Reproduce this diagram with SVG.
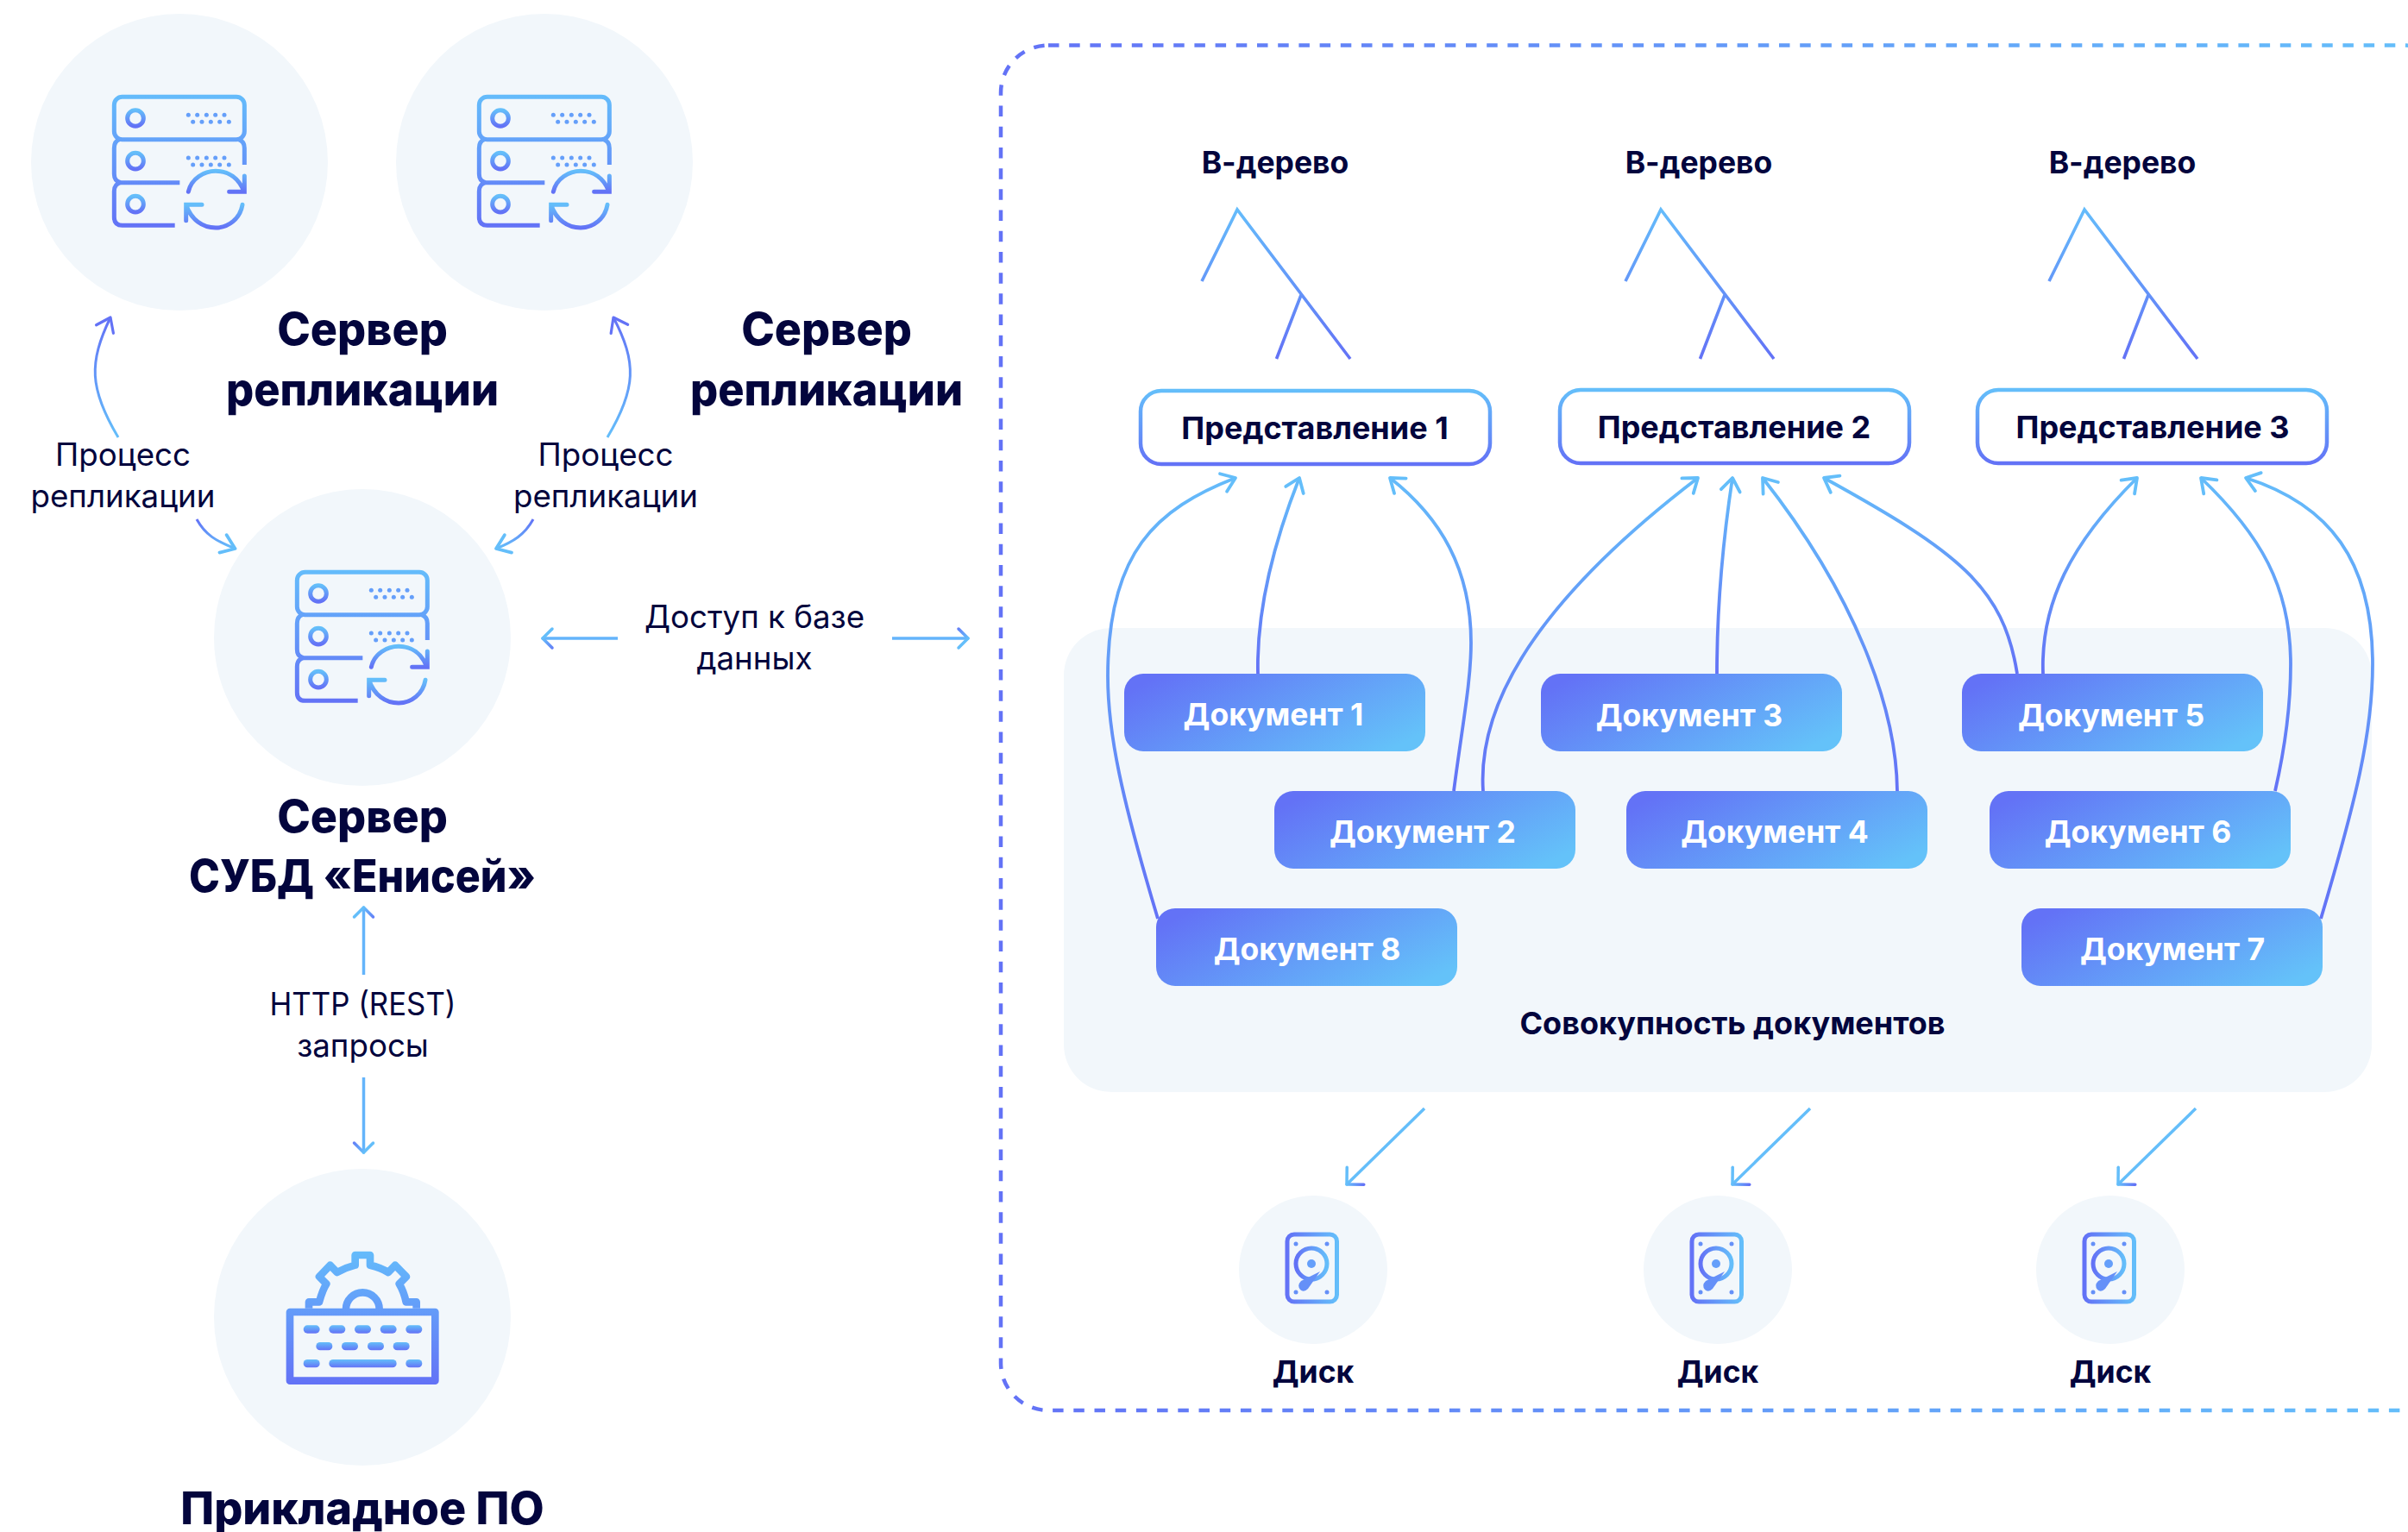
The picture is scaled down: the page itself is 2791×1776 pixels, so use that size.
<svg xmlns="http://www.w3.org/2000/svg" xmlns:xlink="http://www.w3.org/1999/xlink" width="2791" height="1776" viewBox="0 0 2791 1776">
<style>
text{font-family:Inter,"Noto Sans",sans-serif;fill:#03053d;text-anchor:middle}
.h{font-size:52px;font-weight:800}
.m{font-size:35.5px;font-weight:700}
.v{font-size:36px;font-weight:700}
.l{font-size:36.7px;font-weight:400}
.d{font-size:35.5px;font-weight:700;fill:#fff}
.bg{fill:#f2f7fb}
.c{fill:none;stroke-width:3.8;marker-end:url(#ah)}
.up{fill:none;stroke:url(#gr);stroke-width:3;marker-end:url(#ahp)}
.dn{fill:none;stroke:url(#gr);stroke-width:3;marker-end:url(#ah)}
.st{fill:none;stroke:#64b4fb;stroke-width:3.5}
.sd{fill:none;stroke:#64befa;stroke-width:3.5;marker-end:url(#as3)}
.doc{fill:url(#gd)}
.view{fill:#fff;stroke:url(#gv);stroke-width:4.5}
.tree{fill:none;stroke-width:3.6}
.arm{fill:none;stroke-width:3.5;stroke-linecap:round}
</style>
<defs>
<linearGradient id="gv" x1="0" y1="0" x2="0" y2="1"><stop offset="0" stop-color="#64befa"/><stop offset="1" stop-color="#6372f6"/></linearGradient>
<linearGradient id="gr" x1="0" y1="0" x2="0" y2="1"><stop offset="0" stop-color="#6372f6"/><stop offset="1" stop-color="#64befa"/></linearGradient>
<linearGradient id="gu" x1="0" y1="1" x2="0" y2="0"><stop offset="0" stop-color="#6372f6"/><stop offset="1" stop-color="#64bbfa"/></linearGradient>
<linearGradient id="gd" x1="0" y1="0.25" x2="1" y2="0.75"><stop offset="0" stop-color="#6372f6"/><stop offset="1" stop-color="#64c2f9"/></linearGradient>
<linearGradient id="gh" x1="0" y1="0" x2="1" y2="0"><stop offset="0" stop-color="#6372f6"/><stop offset="1" stop-color="#64befa"/></linearGradient>
<linearGradient id="gicon" gradientUnits="userSpaceOnUse" x1="0" y1="60" x2="0" y2="520"><stop offset="0" stop-color="#64bcfb"/><stop offset="1" stop-color="#6372f6"/></linearGradient>
<linearGradient id="gicon2" gradientUnits="userSpaceOnUse" x1="0" y1="330" x2="0" y2="795"><stop offset="0" stop-color="#64bcfb"/><stop offset="1" stop-color="#6372f6"/></linearGradient>
<linearGradient id="gframe" gradientUnits="userSpaceOnUse" x1="1160" y1="0" x2="2791" y2="0"><stop offset="0" stop-color="#6372f6"/><stop offset="1" stop-color="#64befa"/></linearGradient>
<linearGradient id="gt" gradientUnits="userSpaceOnUse" x1="0" y1="242" x2="0" y2="416"><stop offset="0" stop-color="#64bcfb"/><stop offset="1" stop-color="#6372f6"/></linearGradient>
<linearGradient id="ga1" gradientUnits="userSpaceOnUse" x1="20" y1="20" x2="6" y2="6"><stop offset="0" stop-color="#64befa"/><stop offset="1" stop-color="#6372f6"/></linearGradient>
<linearGradient id="ga2" gradientUnits="userSpaceOnUse" x1="20" y1="20" x2="6" y2="34"><stop offset="0" stop-color="#64befa"/><stop offset="1" stop-color="#6372f6"/></linearGradient>
<marker id="ah" markerUnits="userSpaceOnUse" orient="auto" markerWidth="40" markerHeight="40" refX="20" refY="20" viewBox="0 0 40 40" overflow="visible"><path d="M5 9L20 20L5 31" fill="none" stroke="#64befa" stroke-width="3.8" stroke-linecap="round" stroke-linejoin="round"/></marker>
<marker id="ahp" markerUnits="userSpaceOnUse" orient="auto" markerWidth="40" markerHeight="40" refX="20" refY="20" viewBox="0 0 40 40" overflow="visible"><path d="M5 9L20 20L5 31" fill="none" stroke="#6372f6" stroke-width="3.2" stroke-linecap="round" stroke-linejoin="round"/></marker>
<marker id="as1" markerUnits="userSpaceOnUse" orient="auto" markerWidth="40" markerHeight="40" refX="20" refY="20" viewBox="0 0 40 40" overflow="visible"><path d="M9 31L20 20" class="arm" stroke="#64befa"/><path d="M9 9L20 20" class="arm" stroke="url(#ga1)"/></marker>
<marker id="as2" markerUnits="userSpaceOnUse" orient="auto" markerWidth="40" markerHeight="40" refX="20" refY="20" viewBox="0 0 40 40" overflow="visible"><path d="M9 9L20 20" class="arm" stroke="#64befa"/><path d="M9 31L20 20" class="arm" stroke="url(#ga2)"/></marker>
<marker id="as3" markerUnits="userSpaceOnUse" orient="auto" markerWidth="40" markerHeight="40" refX="20" refY="20" viewBox="0 0 40 40" overflow="visible"><path d="M6 34L20 20" class="arm" stroke="#64befa"/><path d="M6 6L20 20" class="arm" stroke="url(#ga1)"/></marker>
<g id="server" transform="translate(-108 -98) scale(.33333)">
<rect x="97" y="67" width="453" height="148" rx="28" fill="none" stroke="url(#gicon)" stroke-width="15"/>
<path d="M550 303V245Q550 222 530 215M115 215Q97 222 97 245V335Q97 360 120 365H325M120 365Q97 370 97 395V485Q97 514 125 514H308" fill="none" stroke="url(#gicon)" stroke-width="15"/>
<g fill="none" stroke="url(#gv)" stroke-width="15"><circle cx="171" cy="141" r="28"/><circle cx="171" cy="290" r="28"/><circle cx="171" cy="440" r="28"/></g>
<g fill="#659ffa"><circle cx="355" cy="130" r="7.5"/><circle cx="386" cy="130" r="7.5"/><circle cx="418" cy="130" r="7.5"/><circle cx="449" cy="130" r="7.5"/><circle cx="480" cy="130" r="7.5"/><circle cx="371" cy="154" r="7.5"/><circle cx="402" cy="154" r="7.5"/><circle cx="433" cy="154" r="7.5"/><circle cx="464" cy="154" r="7.5"/><circle cx="496" cy="154" r="7.5"/><circle cx="355" cy="279" r="7.5"/><circle cx="386" cy="279" r="7.5"/><circle cx="418" cy="279" r="7.5"/><circle cx="449" cy="279" r="7.5"/><circle cx="480" cy="279" r="7.5"/><circle cx="371" cy="303" r="7.5"/><circle cx="402" cy="303" r="7.5"/><circle cx="433" cy="303" r="7.5"/><circle cx="464" cy="303" r="7.5"/><circle cx="496" cy="303" r="7.5"/></g>
<path d="M355 397C365 350 410 325 450 325C495 325 530 350 548 395M550 342V397H497" fill="none" stroke="url(#gv)" stroke-width="15" stroke-linecap="round"/>
<path d="M543 442C535 490 495 522 450 522C405 522 365 495 347 442M347 497V442H402" fill="none" stroke="url(#gv)" stroke-width="15" stroke-linecap="round"/>
</g>
<g id="disk">
<circle r="86" class="bg"/>
<rect x="-30" y="-41" width="57.500" height="78" rx="8" fill="none" stroke="url(#gh)" stroke-width="5"/>
<circle cx="-2" cy="-7" r="18" fill="none" stroke="url(#gh)" stroke-width="5"/>
<circle cx="-2" cy="-7" r="5" fill="#659ffa"/>
<path d="M8 2L-6 22Q-11 27 -15 23Q-19 18 -14 13Z" fill="#6590f8"/>
<g fill="#6590f8"><circle cx="-20" cy="-30" r="2.500"/><circle cx="16" cy="-30" r="2.500"/><circle cx="-20" cy="26" r="2.500"/><circle cx="16" cy="26" r="2.500"/></g>
</g>
<path id="tree" d="M1393 326L1434 243L1565 416M1508 342L1479.500 416" class="tree" stroke="url(#gt)"/>
</defs>
<rect width="2791" height="1776" fill="#fff"/>
<rect id="storage-frame" x="1160" y="52.500" width="1680" height="1582.500" rx="55" fill="none" stroke="url(#gframe)" stroke-width="4.500" stroke-dasharray="12.500 11.700"/>
<rect id="doc-panel" x="1233" y="728" width="1516" height="538" rx="55" class="bg"/>
<g id="server-r1"><circle cx="208" cy="188" r="172" class="bg"/><use xlink:href="#server" href="#server" transform="translate(208 188)"/><text class="h" x="420" y="400">Сервер</text><text class="h" x="420" y="470" textLength="316" lengthAdjust="spacingAndGlyphs">репликации</text></g>
<g id="server-r2"><circle cx="631" cy="188" r="172" class="bg"/><use xlink:href="#server" href="#server" transform="translate(631 188)"/><text class="h" x="958" y="400">Сервер</text><text class="h" x="958" y="470" textLength="316" lengthAdjust="spacingAndGlyphs">репликации</text></g>
<g id="server-main"><circle cx="420" cy="739" r="172" class="bg"/><use xlink:href="#server" href="#server" transform="translate(420 739)"/><text class="h" x="420" y="965">Сервер</text><text class="h" x="420" y="1034" textLength="402" lengthAdjust="spacingAndGlyphs">СУБД «Енисей»</text></g>
<g id="app"><circle cx="420" cy="1527" r="172" class="bg"/>
<g transform="translate(230 1340) scale(.33333)"><path d="M384 530V508H420C428 480 432 465 445 445L420 420L458 380L482 405C505 392 525 385 545 380V345H597V380C620 385 640 392 660 405L684 380L723 420L698 445C710 465 716 480 722 508H758V530M513 533A58 58 0 0 1 629 533" fill="none" stroke="url(#gicon2)" stroke-width="26" stroke-linejoin="round"/><rect x="318" y="543" width="505" height="239" fill="none" stroke="url(#gicon2)" stroke-width="26" stroke-linejoin="round"/>
<g fill="url(#gv)"><rect x="365" y="589" width="57" height="28" rx="14"/><rect x="454" y="589" width="57" height="28" rx="14"/><rect x="543" y="589" width="57" height="28" rx="14"/><rect x="632" y="589" width="57" height="28" rx="14"/><rect x="721" y="589" width="57" height="28" rx="14"/><rect x="409" y="648" width="57" height="28" rx="14"/><rect x="498" y="648" width="57" height="28" rx="14"/><rect x="588" y="648" width="57" height="28" rx="14"/><rect x="677" y="648" width="57" height="28" rx="14"/><rect x="365" y="708" width="57" height="28" rx="14"/><rect x="454" y="708" width="235" height="28" rx="14"/><rect x="721" y="708" width="57" height="28" rx="14"/></g></g>
<text class="h" x="420" y="1767">Прикладное ПО</text></g>
<g id="tree1"><use xlink:href="#tree" href="#tree"/><text class="m" x="1478" y="201">В-дерево</text></g>
<g id="tree2"><use xlink:href="#tree" href="#tree" transform="translate(491 0)"/><text class="m" x="1969" y="201">В-дерево</text></g>
<g id="tree3"><use xlink:href="#tree" href="#tree" transform="translate(982 0)"/><text class="m" x="2460" y="201">В-дерево</text></g>
<g id="view1"><rect x="1322" y="453" width="405" height="85" rx="24" class="view"/><text class="v" x="1524" y="509">Представление 1</text></g>
<g id="view2"><rect x="1808" y="452" width="405" height="85" rx="24" class="view"/><text class="v" x="2010" y="508">Представление 2</text></g>
<g id="view3"><rect x="2292" y="452" width="405" height="85" rx="24" class="view"/><text class="v" x="2495" y="508">Представление 3</text></g>
<g id="doc1"><rect x="1303" y="781" width="349" height="90" rx="22" class="doc"/><text class="d" x="1476" y="841">Документ 1</text></g>
<g id="doc2"><rect x="1477" y="917" width="349" height="90" rx="22" class="doc"/><text class="d" x="1649" y="977">Документ 2</text></g>
<g id="doc3"><rect x="1786" y="781" width="349" height="90" rx="22" class="doc"/><text class="d" x="1958" y="842">Документ 3</text></g>
<g id="doc4"><rect x="1885" y="917" width="349" height="90" rx="22" class="doc"/><text class="d" x="2057" y="977">Документ 4</text></g>
<g id="doc5"><rect x="2274" y="781" width="349" height="90" rx="22" class="doc"/><text class="d" x="2447" y="842">Документ 5</text></g>
<g id="doc6"><rect x="2306" y="917" width="349" height="90" rx="22" class="doc"/><text class="d" x="2478" y="977">Документ 6</text></g>
<g id="doc7"><rect x="2343" y="1053" width="349" height="90" rx="22" class="doc"/><text class="d" x="2518" y="1113">Документ 7</text></g>
<g id="doc8"><rect x="1340" y="1053" width="349" height="90" rx="22" class="doc"/><text class="d" x="1515" y="1113">Документ 8</text></g>
<g id="collection"><text class="v" x="2008" y="1199">Совокупность документов</text></g>
<g id="disk1"><use xlink:href="#disk" href="#disk" transform="translate(1522 1472)"/><text class="m" x="1522" y="1603">Диск</text></g>
<g id="disk2"><use xlink:href="#disk" href="#disk" transform="translate(1991 1472)"/><text class="m" x="1991" y="1603">Диск</text></g>
<g id="disk3"><use xlink:href="#disk" href="#disk" transform="translate(2446 1472)"/><text class="m" x="2446" y="1603">Диск</text></g>
<g id="labels">
<text class="l" x="142.500" y="540">Процесс</text><text class="l" x="142.500" y="588">репликации</text>
<text class="l" x="702" y="540">Процесс</text><text class="l" x="702" y="588">репликации</text>
<text class="l" x="874.500" y="728">Доступ к базе</text><text class="l" x="874.500" y="776">данных</text>
<text class="l" x="420.500" y="1177" textLength="216" lengthAdjust="spacingAndGlyphs">HTTP (REST)</text><text class="l" x="420.500" y="1225">запросы</text>
</g>
<g id="connectors">
<g stroke="url(#gu)">
<path class="c" d="M1342 1065C1300 925 1284 850 1284 784C1284 640 1340 590 1432 554"/>
<path class="c" d="M1458 781C1456 700 1480 620 1506 554"/>
<path class="c" d="M1685 917C1695 840 1705 790 1705 745C1705 660 1670 600 1611 554"/>
<path class="c" d="M1719 917C1712 810 1790 690 1968 554"/>
<path class="c" d="M1990 781C1990 700 1998 620 2008 554"/>
<path class="c" d="M2199 917C2198 820 2150 690 2043 554"/>
<path class="c" d="M2338 781C2322 680 2270 640 2114 554"/>
<path class="c" d="M2368 781C2365 700 2400 630 2477 554"/>
<path class="c" d="M2637 917C2650 860 2655 810 2655 770C2655 680 2620 620 2551 554"/>
<path class="c" d="M2690 1065C2730 930 2750 850 2750 770C2750 650 2700 585 2603 554"/>
</g>
<path class="up" d="M137 507C103 450 103 420 128 368"/>
<path class="up" d="M704 507C738 450 738 420 711 368"/>
<path class="dn" d="M228 602C238 620 250 627 272.500 636"/>
<path class="dn" d="M618 602C608 620 595 628 575 636"/>
<path class="st" d="M716 740H629" marker-end="url(#as1)"/>
<path class="st" d="M1034 740H1122" marker-end="url(#as1)"/>
<path class="st" d="M421.500 1130V1052" marker-end="url(#as2)"/>
<path class="st" d="M421.500 1249V1336" marker-end="url(#as2)"/>
<path class="sd" d="M1651 1285L1561 1373"/>
<path class="sd" d="M2098 1285L2008 1373"/>
<path class="sd" d="M2545 1285L2455 1373"/>
</g>
</svg>
